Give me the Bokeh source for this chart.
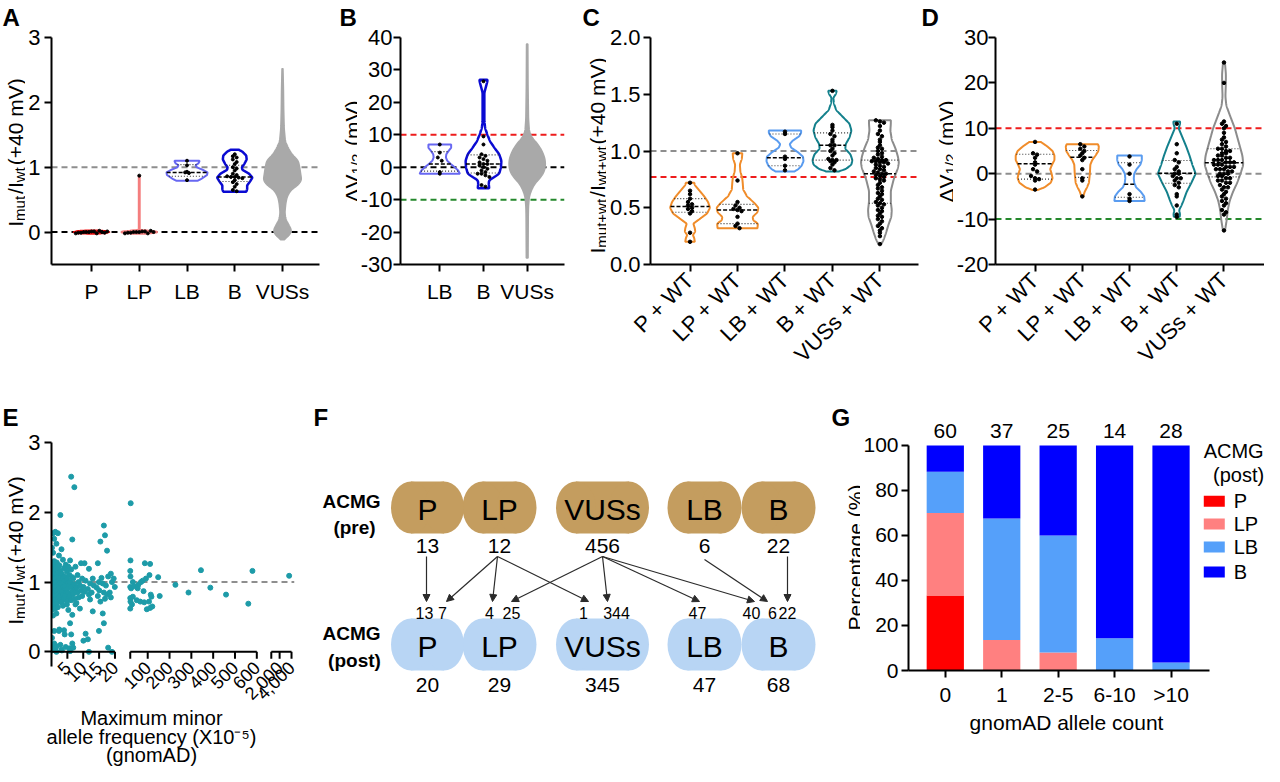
import numpy as np
from math import pi
from bokeh.plotting import figure
from bokeh.layouts import row, column
from bokeh.models import Range1d, FixedTicker, Span, Arrow, NormalHead, ColumnDataSource
from bokeh.core.properties import value
from bokeh.embed import file_html
from bokeh.resources import INLINE

FONT = "Liberation Sans"

# ============================ DATA ============================
# ---- Panel A : Imut/Iwt (+40 mV)
A_cats = ["P", "LP", "LB", "B", "VUSs"]
A_P_vals = [-0.02, -0.01, -0.01, 0.0, 0.0, 0.0, 0.01, 0.01, -0.02, 0.02, 0.0, -0.01, 0.01]
A_LP_vals = [0.87, -0.02, -0.01, -0.01, 0.0, 0.0, 0.0, 0.01, 0.01, -0.02, 0.02, 0.0]
A_LB_vals = [1.10, 1.03, 0.93, 0.92, 0.91, 0.80]
A_B_vals = [1.20, 1.17, 1.15, 1.12, 1.08, 1.05, 1.00, 0.98, 0.95, 0.90, 0.88, 0.86, 0.85, 0.85,
            0.84, 0.83, 0.80, 0.77, 0.74, 0.70, 0.65, 0.63]
A_LB_quart = [0.86, 0.92, 1.04]
A_B_quart = [0.78, 0.85, 1.03]
A_P_shape = [[-0.03, 0.05], [-0.02, 0.30], [0.0, 0.38], [0.02, 0.30], [0.03, 0.05]]
A_LP_shape = [[-0.03, 0.05], [-0.02, 0.33], [0.0, 0.40], [0.02, 0.33], [0.03, 0.04], [0.05, 0.015], [0.87, 0.015]]
A_LB_shape = [[0.79, 0.22], [0.82, 0.30], [0.88, 0.42], [0.92, 0.43], [0.96, 0.33], [1.00, 0.20],
              [1.03, 0.18], [1.06, 0.24], [1.09, 0.26], [1.10, 0.26]]
A_B_shape = [[0.62, 0.24], [0.66, 0.26], [0.72, 0.26], [0.78, 0.32], [0.84, 0.37], [0.90, 0.30],
             [0.96, 0.16], [1.00, 0.15], [1.05, 0.20], [1.12, 0.25], [1.18, 0.24], [1.24, 0.16], [1.27, 0.08]]
A_VUS_shape = [[-0.12, 0.02], [-0.08, 0.10], [-0.02, 0.17], [0.03, 0.19], [0.10, 0.14], [0.20, 0.07],
               [0.30, 0.05], [0.45, 0.07], [0.55, 0.10], [0.65, 0.18], [0.72, 0.32], [0.80, 0.40],
               [0.90, 0.38], [1.00, 0.36], [1.10, 0.33], [1.20, 0.20], [1.30, 0.12], [1.40, 0.06],
               [1.60, 0.035], [1.90, 0.025], [2.20, 0.02], [2.52, 0.01]]

# ---- Panel B : dV1/2 (mV)
B_cats = ["LB", "B", "VUSs"]
B_LB_vals = [7.0, 4.5, 3.0, 2.0, -1.5, -2.0]
B_B_vals = [26.5, 9.5, 7.0, 4.0, 3.5, 3.0, 2.5, 2.0, 1.5, 1.0, 1.0, 0.5, 0.0, -0.5, -1.0, -1.5,
            -2.0, -2.0, -2.5, -3.0, -5.5, -6.0]
B_LB_quart = [-1.2, 1.0, 4.8]
B_B_quart = [-1.8, 1.0, 3.8]
B_LB_shape = [[-2, 0.46], [-1, 0.42], [0, 0.34], [1, 0.25], [2, 0.17], [3, 0.14], [4, 0.15],
              [5, 0.20], [6, 0.26], [7, 0.26]]
B_B_shape = [[-6.5, 0.13], [-5, 0.12], [-4, 0.13], [-3, 0.25], [-2, 0.36], [0, 0.40], [2, 0.41],
             [4, 0.36], [6, 0.25], [8, 0.15], [10, 0.09], [12, 0.04], [14, 0.02], [23, 0.02],
             [25, 0.06], [26.5, 0.09], [27, 0.09]]
B_VUS_shape = [[-28, 0.02], [-15, 0.025], [-12, 0.03], [-9, 0.05], [-7, 0.10], [-5, 0.18], [-3, 0.32],
               [-1, 0.40], [1, 0.42], [3, 0.40], [5, 0.34], [7, 0.25], [9, 0.12], [11, 0.05],
               [15, 0.03], [25, 0.02], [38, 0.015]]

# ---- Panel C : Imut+wt/Iwt+wt (+40 mV)
C_cats = ["P + WT", "LP + WT", "LB + WT", "B + WT", "VUSs + WT"]
C_P_vals = [0.72, 0.65, 0.62, 0.58, 0.55, 0.53, 0.52, 0.50, 0.49, 0.47, 0.45, 0.28, 0.20]
C_LP_vals = [0.98, 0.74, 0.55, 0.52, 0.50, 0.49, 0.48, 0.47, 0.42, 0.36, 0.34, 0.32]
C_LB_vals = [1.17, 1.15, 0.95, 0.93, 0.87, 0.83]
C_B_vals = [1.53, 1.23, 1.21, 1.18, 1.15, 1.13, 1.10, 1.08, 1.05, 1.05, 1.02, 1.00, 0.98, 0.96,
            0.93, 0.92, 0.92, 0.91, 0.90, 0.88, 0.85, 0.83]
C_VUS_vals = [1.27, 1.26, 1.25, 1.22, 1.18, 1.15, 1.13, 1.10, 1.08, 1.05, 1.03, 1.02, 1.00, 0.98,
              0.97, 0.95, 0.94, 0.93, 0.92, 0.92, 0.91, 0.91, 0.90, 0.90, 0.89, 0.88, 0.87, 0.86,
              0.85, 0.84, 0.83, 0.82, 0.81, 0.80, 0.80, 0.79, 0.78, 0.77, 0.76, 0.75, 0.74, 0.72,
              0.70, 0.68, 0.67, 0.65, 0.63, 0.62, 0.60, 0.58, 0.57, 0.55, 0.54, 0.53, 0.52, 0.50,
              0.48, 0.47, 0.45, 0.43, 0.42, 0.40, 0.38, 0.36, 0.34, 0.32, 0.30, 0.28, 0.25, 0.18]
C_quarts = [[0.46, 0.51, 0.58], [0.36, 0.48, 0.53], [0.87, 0.94, 1.15], [0.92, 1.05, 1.16], [0.54, 0.80, 0.92]]
C_shapes = [
    [[0.20, 0.10], [0.23, 0.09], [0.26, 0.06], [0.29, 0.11], [0.32, 0.10], [0.36, 0.07], [0.40, 0.20],
     [0.45, 0.36], [0.50, 0.42], [0.55, 0.38], [0.60, 0.30], [0.66, 0.18], [0.70, 0.10], [0.72, 0.09]],
    [[0.32, 0.42], [0.36, 0.43], [0.39, 0.33], [0.42, 0.32], [0.46, 0.42], [0.50, 0.44], [0.54, 0.36],
     [0.60, 0.20], [0.66, 0.12], [0.72, 0.11], [0.76, 0.10], [0.82, 0.06], [0.88, 0.05], [0.93, 0.09],
     [0.97, 0.10], [0.98, 0.10]],
    [[0.82, 0.20], [0.84, 0.28], [0.87, 0.35], [0.91, 0.39], [0.95, 0.38], [0.99, 0.27], [1.03, 0.13],
     [1.06, 0.10], [1.09, 0.16], [1.13, 0.30], [1.16, 0.34], [1.18, 0.34]],
    [[0.82, 0.12], [0.84, 0.28], [0.88, 0.40], [0.92, 0.42], [0.97, 0.38], [1.02, 0.27], [1.06, 0.28],
     [1.12, 0.36], [1.18, 0.40], [1.24, 0.36], [1.30, 0.22], [1.36, 0.08], [1.42, 0.03], [1.47, 0.02],
     [1.50, 0.07], [1.53, 0.09]],
    [[0.18, 0.03], [0.22, 0.08], [0.28, 0.13], [0.35, 0.18], [0.42, 0.24], [0.48, 0.25], [0.55, 0.23],
     [0.65, 0.23], [0.75, 0.29], [0.85, 0.38], [0.90, 0.40], [0.95, 0.38], [1.02, 0.33], [1.10, 0.25],
     [1.18, 0.22], [1.24, 0.23], [1.27, 0.23]],
]

# ---- Panel D : dV1/2 (mV), co-expression with WT
D_P_vals = [7.0, 4.5, 4.2, 3.5, 2.5, 2.0, 1.0, 0.5, -0.5, -1.0, -1.2, -1.5, -3.5]
D_LP_vals = [6.5, 6.0, 5.5, 5.0, 4.5, 4.0, 3.5, 3.0, 1.0, -1.0, -1.5, -5.0]
D_LB_vals = [3.8, 2.0, 0.0, -4.5, -5.5, -6.0]
D_B_vals = [11.0, 6.5, 4.5, 3.0, 2.5, 1.5, 1.0, 0.5, 0.0, 0.0, -0.5, -1.0, -1.0, -1.5, -2.0, -2.5,
            -3.0, -4.5, -5.0, -7.0, -9.0, -9.5]
D_VUS_vals = [24.5, 20.0, 11.5, 11.0, 10.5, 10.0, 9.0, 8.0, 7.5, 7.0, 6.5, 6.0, 5.5, 5.5, 5.0, 5.0,
              4.5, 4.5, 4.0, 4.0, 3.5, 3.5, 3.0, 3.0, 3.0, 2.5, 2.5, 2.5, 2.0, 2.0, 2.0, 1.5, 1.5,
              1.5, 1.0, 1.0, 1.0, 0.5, 0.5, 0.0, 0.0, 0.0, -0.5, -0.5, -1.0, -1.0, -1.5, -1.5, -2.0,
              -2.0, -2.5, -3.0, -3.0, -3.5, -4.0, -4.5, -5.0, -5.5, -6.0, -6.5, -7.0, -8.0, -8.5,
              -9.0, -12.5]
D_quarts = [[-1.2, 2.2, 4.3], [-0.8, 3.6, 5.1], [-5.2, -2.3, 2.4], [-2.1, 0.1, 2.9], [-0.7, 2.4, 5.5]]
D_shapes = [
    [[-3.6, 0.05], [-3, 0.20], [-2, 0.33], [-1, 0.37], [0, 0.35], [1, 0.32], [2, 0.36], [3, 0.41],
     [4, 0.41], [5, 0.37], [6, 0.26], [7, 0.12]],
    [[-5, 0.02], [-4, 0.05], [-3, 0.10], [-2, 0.14], [0, 0.16], [2, 0.17], [3, 0.21], [4, 0.28],
     [5, 0.34], [6, 0.35], [6.5, 0.33]],
    [[-6, 0.32], [-5, 0.31], [-4, 0.24], [-3, 0.14], [-2, 0.10], [-1, 0.09], [0, 0.10], [1, 0.15],
     [2, 0.23], [3, 0.26], [4, 0.26]],
    [[-9.5, 0.06], [-9, 0.07], [-8, 0.05], [-7, 0.10], [-6, 0.14], [-4, 0.21], [-2, 0.31], [0, 0.40],
     [2, 0.33], [4, 0.27], [6, 0.20], [8, 0.12], [10, 0.04], [11, 0.07], [11.5, 0.07]],
    [[-12.5, 0.02], [-12, 0.03], [-10, 0.06], [-8, 0.08], [-6, 0.12], [-4, 0.19], [-2, 0.28], [0, 0.35],
     [2, 0.41], [4, 0.39], [7, 0.31], [10, 0.23], [13, 0.12], [15, 0.05], [17, 0.03], [20, 0.04],
     [22, 0.04], [24.5, 0.02]],
]

# ---- Panel E : Imut/Iwt vs max minor allele frequency (x10^-5)
E_cols_x = [0.5, 1.2, 2.0, 2.8, 3.6, 4.5, 5.3, 6.2, 7.2, 8.2, 9.3, 10.4, 11.8, 13.0, 14.6, 15.4,
            16.5, 17.5, 18.7, 19.6]
E_cols_y = [
    [1.70, 1.62, 1.49, 1.42, 1.30, 1.22, 1.17, 1.12, 1.08, 1.04, 1.00, 0.97, 0.94, 0.90, 0.86, 0.82,
     0.78, 0.74, 0.70, 0.66, 0.60, 0.52, 0.30, 0.20, 0.10, 0.05, 0.02],
    [1.72, 1.55, 1.25, 1.18, 1.10, 1.05, 0.99, 0.95, 0.92, 0.88, 0.84, 0.80, 0.76, 0.72, 0.68, 0.62,
     0.55, 0.12, 0.05, 0.00],
    [1.70, 1.38, 1.28, 1.20, 1.13, 1.07, 1.02, 0.98, 0.93, 0.89, 0.85, 0.81, 0.77, 0.73, 0.69, 0.64,
     0.30, 0.08],
    [1.96, 1.47, 1.24, 1.16, 1.09, 1.03, 0.99, 0.96, 0.91, 0.87, 0.83, 0.79, 0.75, 0.71, 0.32, 0.10, 0.03],
    [1.32, 1.20, 1.12, 1.06, 1.01, 0.97, 0.93, 0.90, 0.86, 0.82, 0.78, 0.72, 0.66, 0.31, 0.02],
    [1.25, 1.15, 1.08, 1.02, 0.98, 0.94, 0.89, 0.85, 0.80, 0.75, 0.68, 0.25, 0.07],
    [1.22, 1.10, 1.04, 0.99, 0.95, 0.90, 0.84, 0.79, 0.73, 0.60, 0.05],
    [2.51, 1.61, 1.31, 1.18, 1.07, 1.00, 0.93, 0.87, 0.81, 0.74, 0.53, 0.41, 0.25, 0.12, 0.01],
    [2.36, 1.22, 1.05, 0.97, 0.90, 0.83, 0.76, 0.68, 0.06],
    [1.10, 1.00, 0.92, 0.85, 0.78, 0.70],
    [1.27, 1.05, 0.95, 0.88, 0.80, 0.62],
    [1.27, 1.02, 0.93, 0.86, 0.26, 0.16],
    [1.19, 0.98, 0.90, 0.82, 0.75, 0.18, 0.00],
    [1.05, 0.95, 0.85, 0.58],
    [1.27, 1.00, 0.92, 0.80, 0.30],
    [1.58, 1.06, 0.88, 0.72],
    [1.81, 1.67, 0.98, 0.85, 0.76, 0.55, 0.41],
    [1.45, 1.08, 0.95, 0.82, 0.06],
    [1.12, 1.00, 0.85, 0.78, 0.00],
    [1.05, 0.93],
]
E_mid_x = [22, 21, 20, 21, 32, 20, 24, 39, 57, 69, 77, 87, 111, 108, 92, 148, 54, 81, 20, 32,
           21, 20, 28, 50, 66, 84, 106, 117, 114, 96, 111, 121, 155, 227, 287, 344, 387, 459, 561, 580]
E_mid_y = [2.13, 1.31, 1.16, 1.08, 1.00, 0.93, 0.91, 0.94, 0.96, 1.00, 1.02, 1.27, 1.26, 1.10, 1.05,
           1.07, 0.91, 0.87, 0.77, 0.79, 0.72, 0.62, 0.68, 0.74, 0.72, 0.71, 0.72, 0.79, 0.82, 0.61,
           0.63, 0.65, 0.80, 0.96, 0.85, 1.17, 0.92, 0.82, 0.69, 1.16]
E_far_x = [3600]
E_far_y = [1.09]
E_ticks = [5, 10, 15, 20, 100, 200, 300, 400, 500, 600, 2000, 4000]
E_tick_labels = ["5", "10", "15", "20", "100", "200", "300", "400", "500", "600", "2,000", "4,000"]
E_breaks = [(0, 20), (20, 600), (600, 4000)]

# ---- Panel F : ACMG reclassification
F_cats = ["P", "LP", "VUSs", "LB", "B"]
F_pre_counts = [13, 12, 456, 6, 22]
F_post_counts = [20, 29, 345, 47, 68]
F_flow_from = ["P", "LP", "LP", "LP", "VUSs", "VUSs", "VUSs", "VUSs", "LB", "B"]
F_flow_to = ["P", "P", "LP", "VUSs", "LP", "VUSs", "LB", "B", "B", "B"]
F_flow_n = [13, 7, 4, 1, 25, 344, 47, 40, 6, 22]

# ---- Panel G : ACMG (post) by gnomAD allele count
G_bins = ["0", "1", "2-5", "6-10", ">10"]
G_classes = ["P", "LP", "LB", "B"]
G_P = [20, 0, 0, 0, 0]
G_LP = [22, 5, 2, 0, 0]
G_LB = [11, 20, 13, 2, 1]
G_B = [7, 12, 10, 12, 27]

# ============================ STYLE ============================
C_RED = "#F01010"
C_SALMON = "#F47E7E"
C_LAV = "#6868F2"
C_DBLUE = "#0A0AD2"
C_GREYF = "#A9A9A9"
C_ORANGE = "#F08C2A"
C_LBLUE = "#5A9CF0"
C_TEAL = "#13808C"
C_GREYV = "#8C8C8C"
D_RED = "#EE1C1C"
D_GREEN = "#24882C"
D_GREY = "#8E8E8E"
E_DOT = "#1D9BA8"
F_PRE = "#C49D5F"
F_POST = "#B8D5F4"
G_COLORS = ["#FF0000", "#FF8080", "#55A0FA", "#0000FF"]

CW = {' ': 278, '(': 333, ')': 333, '+': 584, '/': 278, '.': 278, '-': 333, 'I': 278, 'V': 667,
      'm': 833, 'u': 556, 't': 278, 'w': 722, '\u0394': 668}


def tw(s, size):
    return sum(CW.get(ch, 556) for ch in s) * size / 1000.0


def make_fig(box, frame, xr, yr):
    bx0, by0, bx1, by1 = box
    fl, ft, fr, fb = frame
    p = figure(width=bx1 - bx0, height=by1 - by0, x_range=Range1d(*xr), y_range=Range1d(*yr),
               output_backend="svg", toolbar_location=None, tools="",
               min_border_left=fl - bx0, min_border_right=bx1 - fr,
               min_border_top=ft - by0, min_border_bottom=by1 - fb)
    p.outline_line_color = None
    p.grid.visible = False
    p.background_fill_color = "white"
    p.border_fill_color = "white"
    return p


def text_fig(box):
    """Axis-free figure whose data units are the page's pixels (y negated)."""
    x0, y0, x1, y1 = box
    p = figure(width=x1 - x0, height=y1 - y0, x_range=Range1d(x0, x1), y_range=Range1d(-y1, -y0),
               x_axis_type=None, y_axis_type=None, output_backend="svg", toolbar_location=None,
               tools="", min_border=0, min_border_left=0, min_border_right=0, min_border_top=0,
               min_border_bottom=0)
    p.outline_line_color = None
    p.background_fill_color = "white"
    p.border_fill_color = "white"
    return p


def box_of(p):
    # wrap every figure on its own so that siblings do not align their frames
    return column(p)


def ttext(p, xs, ys, texts, size, bold=False, angle=0.0, align="center", baseline="middle"):
    p.text(list(xs), [-y for y in ys], text=list(texts), angle=angle, text_font=value(FONT),
           text_font_size=f"{size}px", text_font_style="bold" if bold else "normal",
           text_align=align, text_baseline=baseline, text_color="black")


def ylabel_glyphs(p, pieces, rx_base, ry_center, main=21, sub=15, shift=4):
    sizes = [sub if s else main for _, s in pieces]
    total = sum(tw(t, sz) for (t, _), sz in zip(pieces, sizes)) + 2 * sum(1 for _, s in pieces if s)
    y = ry_center + total / 2.0
    for (t, s), sz in zip(pieces, sizes):
        lead = len(t) - len(t.lstrip())
        ttext(p, [rx_base + (shift if s else 0)], [y - tw(t[:lead], sz)], [t.strip()], sz,
              angle=pi / 2, align="left", baseline="alphabetic")
        y -= tw(t, sz) + (2 if s else 0)


def style_axes(p, xt, xl, yt, yl, xsize=21, ysize=22, orient=None, xstand=8, ystand=4, tick=7):
    for ax in p.axis:
        ax.axis_line_width = 2
        ax.axis_line_color = "black"
        ax.major_tick_line_width = 2
        ax.major_tick_line_color = "black"
        ax.major_tick_out = tick
        ax.major_tick_in = 0
        ax.minor_tick_line_color = None
        ax.major_label_text_font = FONT
        ax.major_label_text_color = "black"
    p.xaxis.ticker = FixedTicker(ticks=list(xt))
    p.xaxis.major_label_overrides = {k: v for k, v in zip(xt, xl)}
    p.xaxis.major_label_text_font_size = f"{xsize}px"
    p.xaxis.major_label_standoff = xstand
    if orient is not None:
        p.xaxis.major_label_orientation = orient
    p.yaxis.ticker = FixedTicker(ticks=list(yt))
    p.yaxis.major_label_overrides = {k: v for k, v in zip(yt, yl)}
    p.yaxis.major_label_text_font_size = f"{ysize}px"
    p.yaxis.major_label_standoff = ystand


def hline(p, y, color, dash="6 4", lw=2):
    p.add_layout(Span(location=y, dimension="width", line_color=color, line_dash=dash,
                      line_width=lw, level="underlay"))


def violin(p, c, shape, color, lw=2.0, fill=None):
    s = np.asarray(shape, float)
    ys = np.linspace(s[0, 0], s[-1, 0], 300)
    ws = np.interp(ys, s[:, 0], s[:, 1])
    k = 9
    ws = np.convolve(np.pad(ws, k // 2, mode="edge"), np.ones(k) / k, mode="valid")
    xs = np.concatenate([c - ws, (c + ws)[::-1]])
    yy = np.concatenate([ys, ys[::-1]])
    if fill:
        p.patch(xs, yy, fill_color=fill, line_color=color, line_width=lw)
    else:
        p.patch(xs, yy, fill_alpha=0, line_color=color, line_width=lw)
    return ys, ws


def quartiles(p, c, ys, ws, q):
    for i, v in enumerate(q):
        w = float(np.interp(v, ys, ws))
        if i == 1:
            p.segment([c - w], [v], [c + w], [v], line_color="black", line_width=1.5, line_dash="4 2")
        else:
            p.segment([c - w], [v], [c + w], [v], line_color="#333333", line_width=1.1, line_dash="1 2")


def swarm(vals, c, ybin, dx):
    v = np.asarray(vals, float)
    keys = np.round(v / ybin).astype(int)
    xs = np.zeros_like(v)
    for k in np.unique(keys):
        idx = np.where(keys == k)[0]
        n = len(idx)
        xs[idx] = c + (np.arange(n) - (n - 1) / 2.0) * dx
    return xs


def dots(p, vals, c, ybin, dx, size=3.5):
    p.scatter(swarm(vals, c, ybin, dx), vals, size=size, color="black")


# ============================ TOP ROW ============================
# ---- A
gA = text_fig((6, 6, 31, 385))
ttext(gA, [8], [23], ["A"], 24, bold=True, align="left", baseline="alphabetic")
ylabel_glyphs(gA, [("I", 0), ("mut", 1), ("/I", 0), ("wt", 1), ("(+40 mV)", 0)], 21, 158)
pA = make_fig((31, 6, 335, 385), (57, 43, 325, 270), (0.162, 5.775), (-0.5, 3.0))
hline(pA, 1, D_GREY)
hline(pA, 0, "black")
violin(pA, 1, A_P_shape, C_RED, lw=1.5, fill=C_RED)
violin(pA, 2, A_LP_shape, C_SALMON, lw=1.5, fill=C_SALMON)
ysLB, wsLB = violin(pA, 3, A_LB_shape, C_LAV, lw=2)
ysB, wsB = violin(pA, 4, A_B_shape, C_DBLUE, lw=2.5)
violin(pA, 5, A_VUS_shape, C_GREYF, lw=1.5, fill=C_GREYF)
quartiles(pA, 3, ysLB, wsLB, A_LB_quart)
quartiles(pA, 4, ysB, wsB, A_B_quart)
dots(pA, A_P_vals, 1, 0.1, 0.055, 3)
dots(pA, A_LP_vals, 2, 0.1, 0.06, 3)
dots(pA, A_LB_vals, 3, 0.05, 0.08, 3)
dots(pA, A_B_vals, 4, 0.05, 0.08, 3)
style_axes(pA, [1, 2, 3, 4, 5], A_cats, [0, 1, 2, 3], ["0", "1", "2", "3"], ystand=4)

# ---- B
gB = text_fig((335, 6, 363, 385))
ttext(gB, [345], [23], ["B"], 24, bold=True, align="left", baseline="alphabetic")
ylabel_glyphs(gB, [("\u0394V", 0), ("1/2", 1), (" (mV)", 0)], 358, 157)
pB = make_fig((363, 6, 585, 385), (403, 43, 570, 270), (0.101, 3.854), (-30, 40))
hline(pB, 10, D_RED)
hline(pB, 0, "black")
hline(pB, -10, D_GREEN)
ysLB, wsLB = violin(pB, 1, B_LB_shape, C_LAV, lw=2)
ysB, wsB = violin(pB, 2, B_B_shape, C_DBLUE, lw=2.5)
violin(pB, 3, B_VUS_shape, C_GREYF, lw=1.5, fill=C_GREYF)
quartiles(pB, 1, ysLB, wsLB, B_LB_quart)
quartiles(pB, 2, ysB, wsB, B_B_quart)
dots(pB, B_LB_vals, 1, 1.2, 0.09, 3)
dots(pB, B_B_vals, 2, 1.2, 0.09, 3)
style_axes(pB, [1, 2, 3], B_cats, list(range(-30, 41, 10)), [str(v) for v in range(-30, 41, 10)],
           ystand=1)

# ---- C
gC = text_fig((585, 6, 612, 385))
ttext(gC, [588], [23], ["C"], 24, bold=True, align="left", baseline="alphabetic")
ylabel_glyphs(gC, [("I", 0), ("mut+wt", 1), ("/I", 0), ("wt+wt", 1), ("(+40 mV)", 0)], 603, 161)
pC = make_fig((612, 6, 925, 385), (653, 43, 924, 270), (0.167, 5.813), (0.0, 2.0))
hline(pC, 1.0, D_GREY)
hline(pC, 0.77, D_RED)
C_vals = [C_P_vals, C_LP_vals, C_LB_vals, C_B_vals, C_VUS_vals]
C_cols = [C_ORANGE, C_ORANGE, C_LBLUE, C_TEAL, C_GREYV]
for i in range(5):
    ys, ws = violin(pC, i + 1, C_shapes[i], C_cols[i], lw=2)
    quartiles(pC, i + 1, ys, ws, C_quarts[i])
    dots(pC, C_vals[i], i + 1, 0.03, 0.085, 3.5)
style_axes(pC, [1, 2, 3, 4, 5], C_cats, [0, 0.5, 1.0, 1.5, 2.0], ["0.0", "0.5", "1.0", "1.5", "2.0"],
           xsize=22, orient=pi / 4, xstand=5, ystand=3)

# ---- D
gD = text_fig((925, 6, 959, 385))
ttext(gD, [927], [23], ["D"], 24, bold=True, align="left", baseline="alphabetic")
ylabel_glyphs(gD, [("\u0394V", 0), ("1/2", 1), (" (mV)", 0)], 952, 157)
pD = make_fig((959, 6, 1270, 385), (998, 43, 1270, 270), (0.162, 5.858), (-20, 30))
hline(pD, 10, D_RED)
hline(pD, 0, D_GREY)
hline(pD, -10, D_GREEN)
D_vals = [D_P_vals, D_LP_vals, D_LB_vals, D_B_vals, D_VUS_vals]
for i in range(5):
    ys, ws = violin(pD, i + 1, D_shapes[i], C_cols[i], lw=2)
    quartiles(pD, i + 1, ys, ws, D_quarts[i])
    dots(pD, D_vals[i], i + 1, 0.9, 0.085, 3.5)
style_axes(pD, [1, 2, 3, 4, 5], C_cats, list(range(-20, 31, 10)), [str(v) for v in range(-20, 31, 10)],
           xsize=22, orient=pi / 4, xstand=5, ystand=0)

# ============================ BOTTOM ROW ============================
# ---- E
E_seg_px = [(55.0, 119.0), (134.4, 262.0), (276.6, 297.0)]  # screen span of each axis piece


def e_map(v, seg):
    (a, b), (u0, u1) = E_breaks[seg], E_seg_px[seg]
    return u0 + (np.asarray(v, float) - a) * (u1 - u0) / (b - a)


gE = text_fig((6, 385, 31, 772))
ttext(gE, [8], [423], ["E"], 24, bold=True, align="left", baseline="alphabetic")
ylabel_glyphs(gE, [("I", 0), ("mut", 1), ("/I", 0), ("wt", 1), ("(+40 mV)", 0)], 21, 556)
pE = make_fig((31, 385, 310, 714), (55, 448, 300, 676), (55, 300), (-0.21, 3.0))
hline(pE, 1, D_GREY)
ex, ey = [], []
jit = [0.0, 0.35, -0.35]
for cx, col in zip(E_cols_x, E_cols_y):
    for j, yv in enumerate(col):
        ex.append(cx + jit[j % 3])
        ey.append(yv)
E_u = np.concatenate([e_map(ex, 0), e_map(E_mid_x, 1), e_map(E_far_x, 2)])
E_v = np.concatenate([ey, E_mid_y, E_far_y])
pE.scatter(E_u, E_v, size=5, color=E_DOT)
seg_u = [e_map([a, b], i) for i, (a, b) in enumerate(E_breaks)]
pE.segment([float(s[0]) for s in seg_u], [0] * 3, [float(s[1]) for s in seg_u], [0] * 3,
           line_color="black", line_width=2)
tick_seg = [0, 0, 0, 0, 1, 1, 1, 1, 1, 1, 2, 2]
E_tick_u = [int(round(float(e_map(t, s)))) for t, s in zip(E_ticks, tick_seg)]
all_tick_u = E_tick_u + [float(seg_u[1][0]), float(seg_u[2][0])]
pE.segment(all_tick_u, [0] * len(all_tick_u), all_tick_u, [-0.1] * len(all_tick_u),
           line_color="black", line_width=2)
style_axes(pE, E_tick_u, E_tick_labels, [0, 1, 2, 3], ["0", "1", "2", "3"], xsize=18,
           orient=pi / 4, xstand=-9, ystand=4)
pE.xaxis.axis_line_color = None
pE.xaxis.major_tick_line_color = None
eT = text_fig((31, 714, 310, 772))
ttext(eT, [157, 157, 157], [723, 742, 760],
      ["Maximum minor", "allele frequency (X10\u207b\u2075)", "(gnomAD)"], 20)

# ---- F
pF = text_fig((310, 385, 830, 772))
F_node_x = [433, 505, 608, 710, 784]
F_node_w = [73, 74, 93, 74, 74]
F_node_h = 52
F_end_rx = 20
F_pre_y, F_post_y = 513, 650
F_src_x = {"P": 432, "LP": 503, "VUSs": 608, "LB": 710, "B": 793}
F_src_y = {"P": 562, "LP": 562, "VUSs": 562, "LB": 565, "B": 562}
F_end_x = [432, 452, 498, 594, 517, 613, 705, 760, 773, 793]
F_end_y = 607
F_lab_x = [430, 448, 495, 589, 517, 622, 703, 757, 778, 793]
for yrow, colr in ((F_pre_y, F_PRE), (F_post_y, F_POST)):
    xs = np.array(F_node_x, float)
    ws = np.array(F_node_w, float)
    pF.rect(xs, [-yrow] * 5, width=ws - 2 * F_end_rx, height=F_node_h, color=colr, line_color=None)
    pF.ellipse(np.concatenate([xs - ws / 2 + F_end_rx, xs + ws / 2 - F_end_rx]), [-yrow] * 10,
               width=2 * F_end_rx, height=F_node_h, color=colr, line_color=None)
    ttext(pF, F_node_x, [yrow + 2] * 5, F_cats, 30)
ttext(pF, F_node_x, [551] * 5, [str(v) for v in F_pre_counts], 21)
ttext(pF, F_node_x, [690] * 5, [str(v) for v in F_post_counts], 21)
arr = ColumnDataSource(dict(xs=[F_src_x[s] for s in F_flow_from], ys=[-F_src_y[s] for s in F_flow_from],
                            xe=F_end_x, ye=[-F_end_y] * len(F_end_x)))
pF.add_layout(Arrow(source=arr, x_start="xs", y_start="ys", x_end="xe", y_end="ye",
                    line_color="#2b2b2b", line_width=1.2,
                    end=NormalHead(size=7, fill_color="#2b2b2b", line_color="#2b2b2b")))
ttext(pF, F_lab_x, [618] * len(F_lab_x), [str(v) for v in F_flow_n], 16)
ttext(pF, [357, 360, 357, 360], [507, 533, 639, 666], ["ACMG", "(pre)", "ACMG", "(post)"], 19, bold=True)
ttext(pF, [319], [423], ["F"], 24, bold=True, align="left", baseline="alphabetic")

# ---- G
gG = text_fig((830, 385, 866, 772))
ttext(gG, [837], [423], ["G"], 24, bold=True, align="left", baseline="alphabetic")
ttext(gG, [861], [563], ["Percentage (%)"], 21, angle=pi / 2, align="center", baseline="alphabetic")
G_x0, G_dx, G_py = 949.0, 56.75, 2.26
pG = make_fig((866, 385, 1270, 714), (912, 420, 1270, 677),
              ((912 - G_x0) / G_dx, (1270 - G_x0) / G_dx), (0, (677 - 420) / G_py))
G_counts = np.array([G_P, G_LP, G_LB, G_B], float)
G_tot = G_counts.sum(axis=0)
G_pct = G_counts / G_tot * 100
bottom = np.zeros(5)
for k in range(4):
    pG.vbar(x=list(range(5)), width=0.66, bottom=bottom.copy(), top=bottom + G_pct[k],
            color=G_COLORS[k], line_color=None)
    bottom = bottom + G_pct[k]
pG.text(list(range(5)), [106.2] * 5, text=[str(int(t)) for t in G_tot], text_font=value(FONT),
        text_font_size="21px", text_align="center", text_baseline="middle", color="black")
style_axes(pG, [0, 1, 2, 3, 4], G_bins, [0, 20, 40, 60, 80, 100], ["0", "20", "40", "60", "80", "100"],
           xsize=21, ysize=21, xstand=5, ystand=3)
pG.yaxis.bounds = (0, 100)
pG.xaxis.bounds = ((912 - G_x0) / G_dx, (1215 - G_x0) / G_dx)


def gx(px):
    return (px - G_x0) / G_dx


def gy(py):
    return (677 - py) / G_py


pG.text([gx(1239), gx(1244)], [gy(457), gy(481)], text=["ACMG", "(post)"], text_font=value(FONT),
        text_font_size="20px", text_align="center", text_baseline="middle", color="black")
leg_rows = [507, 530, 553, 578]
pG.rect([gx(1219.5)] * 4, [gy(v) for v in leg_rows], width=21, height=11, width_units="screen",
        height_units="screen", color=G_COLORS, line_color=None)
pG.text([gx(1239)] * 4, [gy(v) for v in leg_rows], text=G_classes, text_font=value(FONT),
        text_font_size="20px", text_align="left", text_baseline="middle", color="black")
gT = text_fig((866, 714, 1270, 772))
ttext(gT, [1072], [728], ["gnomAD allele count"], 21)

top = row(*[box_of(p) for p in (gA, pA, gB, pB, gC, pC, gD, pD)])
bot = row(box_of(gE), column(box_of(pE), box_of(eT)), box_of(pF), box_of(gG),
          column(box_of(pG), box_of(gT)))
layout = column(top, bot)
open("out.html", "w").write(file_html(layout, INLINE))
